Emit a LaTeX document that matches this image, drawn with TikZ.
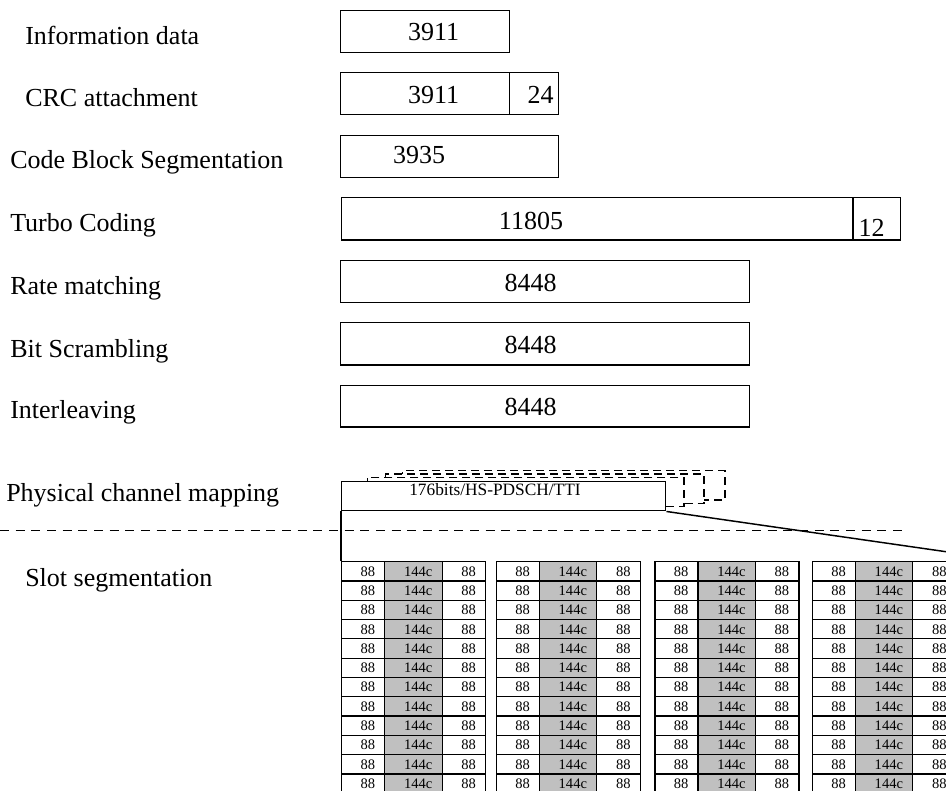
\documentclass[tikz,border=0pt]{standalone}
\usepackage{fontspec}
\setmainfont{Liberation Serif}
\newcommand\lblfont{\fontsize{19.5}{22}\selectfont}
\newcommand\smfont{\fontsize{13}{15}\selectfont}
\newcommand\cellfont{\fontsize{10.9}{12}\selectfont}
\definecolor{cellgray}{HTML}{C0C0C0}
\newcommand\mybox[5]{\node[box, minimum width=#4*0.75pt, minimum height=#5*0.75pt] (#1) at (#2,#3) {};}
\begin{document}
\begin{tikzpicture}[x=0.75pt,y=-0.75pt,
  box/.style={draw, line width=1.1pt, inner sep=0pt, anchor=north west, fill=white},
  lbl/.style={font=\lblfont, anchor=base west, inner sep=0pt},
  num/.style={font=\lblfont, anchor=base, inner sep=0pt},
  ghost/.style={draw, dash pattern=on 6pt off 3.75pt, line width=1pt, fill=white, inner sep=0pt, anchor=north west},
  cell/.style={draw, line width=0.9pt, inner sep=0pt, anchor=north west, minimum height=19.3*0.75pt, font=\cellfont, text height=7.3pt, text depth=0pt},
  sepline/.style={dash pattern=on 6.75pt off 5pt, line width=0.9pt},
  conn/.style={line width=1.1pt}]
\useasboundingbox (0,0) rectangle (946,790);
\fill[white] (0,0) rectangle (946,790);
\clip (0,0) rectangle (946,790);

% left labels
\node[lbl] (l1) at (25,44) {Information data};
\node[lbl] (l2) at (25,106.7) {CRC attachment};
\node[lbl] (l3) at (10,168.3) {Code Block Segmentation};
\node[lbl] (l4) at (10,231) {Turbo Coding};
\node[lbl] (l5) at (10,294) {Rate matching};
\node[lbl] (l6) at (10,357.3) {Bit Scrambling};
\node[lbl] (l7) at (10,418.3) {Interleaving};
\node[lbl] (l8) at (6,501.7) {Physical channel mapping};
\node[lbl] (l9) at (25,586) {Slot segmentation};

% bit boxes
\mybox{info}{340}{9.5}{169}{42}
\node[num] (tinfo) at (433.7,40.7) {3911};
\mybox{crc}{340}{72}{168.7}{42}
\mybox{crcb}{508.7}{72}{49}{42}
\node[num] (tcrc) at (433.7,103.3) {3911};
\node[num] (tcrcb) at (540.5,103.3) {24};
\mybox{cbs}{340}{134.5}{217.7}{42}
\node[num] (tcbs) at (419,163) {3935};
\mybox{turbo}{340.5}{197}{511.8}{42.3}
\mybox{turbob}{852.3}{197}{47.7}{42.3}
\node[num] (tturbo) at (531,229) {11805};
\node[num] (tturbob) at (871.7,236.5) {12};
\mybox{rate}{340}{259.5}{409}{42}
\node[num] (trate) at (530.5,291.7) {8448};
\mybox{scr}{340}{322}{409}{42.3}
\node[num] (tscr) at (530.5,353.3) {8448};
\mybox{intl}{340}{384.5}{409}{41.7}
\node[num] (tintl) at (530.5,415.7) {8448};

% physical channel mapping: stacked dashed copies behind the solid box
\node[ghost, minimum width=322.6*0.75pt, minimum height=29.3*0.75pt] (g3) at (401.7,470) {};
\node[ghost, minimum width=318.3*0.75pt, minimum height=29.4*0.75pt] (g2) at (385,473.3) {};
\node[ghost, minimum width=316.6*0.75pt, minimum height=28.8*0.75pt] (g1) at (366.7,476.7) {};
\mybox{phys}{341}{481}{324}{29}
\node[font=\smfont, anchor=base west, inner sep=0pt] (tphys) at (409,495) {176bits/HS-PDSCH/TTI};

% separator
\coordinate (sl) at (0,530.7);
\coordinate (sr) at (902,530.7);
\draw[sepline] (sl) -- (sr);

% slot grid
\foreach \b/\bxx in {1/341,2/495.7,3/654.3,4/811.7} {
  \foreach \r in {0,...,11} {
    \pgfmathsetmacro\ry{561+19.3*\r}
    \node[cell, minimum width=43*0.75pt] (a\b-\r) at (\bxx,\ry) {\hspace*{7.2pt}88};
    \node[cell, fill=cellgray, minimum width=57.5*0.75pt] (m\b-\r) at (\bxx+43,\ry) {\hspace*{7.2pt}144c};
    \node[cell, minimum width=43.5*0.75pt] (z\b-\r) at (\bxx+100.5,\ry) {\hspace*{7.2pt}88};
  }
}

% connectors from the mapping box to the slots
\coordinate (slantend) at (946,551.7);
\draw[conn] (phys.south west) -- (a1-0.north west);
\draw[conn] (phys.south east) -- (slantend);
\end{tikzpicture}
\end{document}
